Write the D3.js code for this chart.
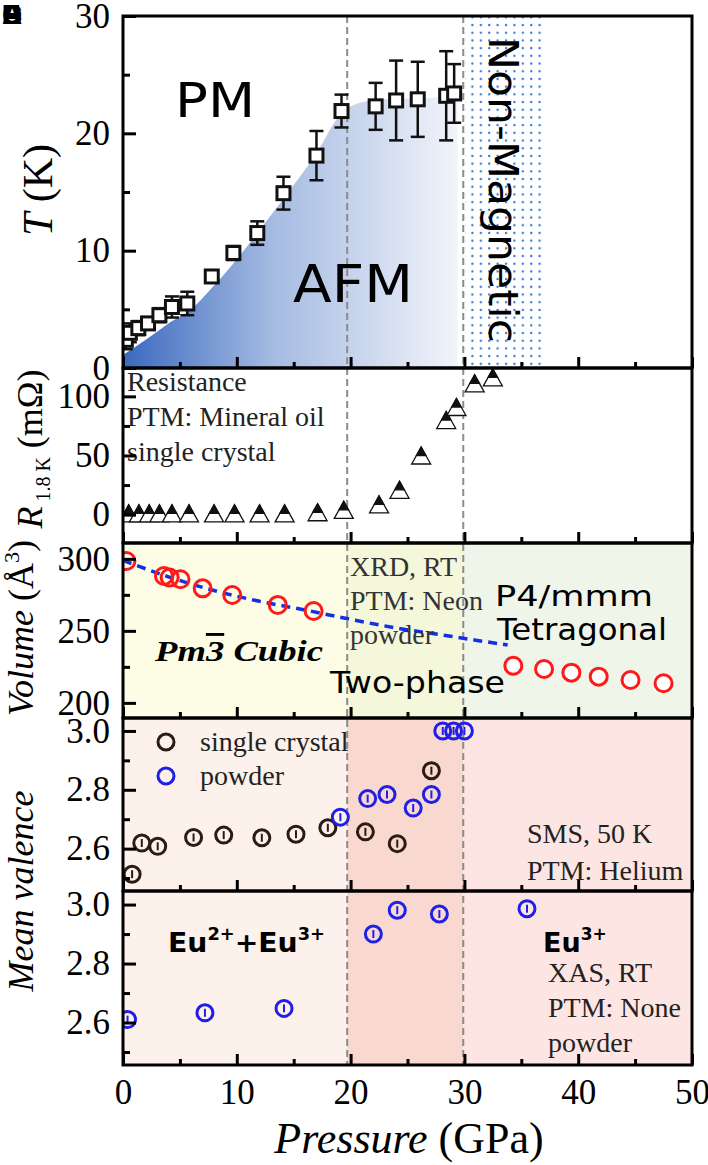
<!DOCTYPE html>
<html>
<head>
<meta charset="utf-8">
<script src="https://cdn.jsdelivr.net/npm/d3@7"></script>
<style>
  body { margin: 0; background: #fff; }
  svg { display: block; }
</style>
</head>
<body>
<div id="chart"></div>
<script>
// ---- data ----
// panel 1: Neel temperature vs pressure
const tnP   = [0.25, 0.6, 1.35, 2.2, 3.2, 4.3, 5.65, 7.8, 9.7, 11.8, 14.1, 17.0, 19.2, 22.2, 24.0, 25.9, 28.4, 29.1];
const tnT   = [2.4, 3.0, 3.4, 3.8, 4.5, 5.2, 5.5, 7.8, 9.8, 11.5, 14.9, 18.1, 21.9, 22.3, 22.8, 22.9, 23.2, 23.4];
const tnErr = [0.8, 0.8, 0.6, 0.5, 0.6, 0.9, 1.0, 0.5, 0.6, 1.0, 1.4, 2.1, 1.4, 2.0, 3.4, 3.2, 3.8, 2.5];
// AFM shaded region boundary
const afmP = [0, 2, 4, 6, 7.6, 9.7, 11.8, 14, 17, 19.1, 20.8, 23, 26, 29.4];
const afmT = [1.1, 2.4, 3.8, 5.0, 6.6, 8.9, 11.5, 14.3, 18.3, 21.6, 22.6, 22.9, 23.0, 23.1];
// panel 2: resistance at 1.8 K
const resP = [0.5, 1.4, 2.3, 3.2, 4.3, 5.8, 8.0, 9.8, 12.0, 14.2, 17.1, 19.4, 22.5, 24.3, 26.2, 28.4, 29.3, 30.9, 32.5];
const resR = [1, 1, 1, 1, 1, 1, 1, 1, 1, 1, 2, 4, 8.6, 21, 50, 80, 91, 111, 116];
// panel 3: unit-cell volume
const cubP = [0.3, 3.6, 4.1, 5.05, 7.0, 9.6, 13.6, 16.75];
const cubV = [298.5, 288.1, 287.0, 285.8, 279.5, 274.9, 268.0, 263.8];
const tetP = [34.3, 37.0, 39.4, 41.8, 44.6, 47.5];
const tetV = [225.8, 223.5, 221.0, 218.2, 215.9, 213.6];
const fitP = [0, 4, 8, 12, 16, 20, 24, 28, 31, 33.8];
const fitV = [299, 287.5, 278, 270.5, 264.5, 258, 252, 247.2, 243.5, 240.2];
// panel 4: SMS mean valence
const smsCrystalP = [0.8, 1.65, 3.05, 6.2, 8.85, 12.2, 15.2, 18.0, 21.3, 24.1, 27.1];
const smsCrystalV = [2.513, 2.619, 2.608, 2.638, 2.646, 2.637, 2.649, 2.671, 2.657, 2.617, 2.865];
const smsPowderP  = [19.1, 21.5, 23.2, 25.5, 27.1, 28.1, 29.05, 30.0];
const smsPowderV  = [2.707, 2.770, 2.784, 2.738, 2.784, 3.0, 3.0, 3.0];
// panel 5: XAS mean valence
const xasP = [0.4, 7.2, 14.15, 22.0, 24.1, 27.8, 35.5];
const xasV = [2.61, 2.633, 2.648, 2.90, 2.981, 2.968, 2.986];

const xTicks = [0, 10, 20, 30, 40, 50];
const xMinor = [5, 15, 25, 35, 45];
const phaseLines = [19.7, 29.9];
const nonMagEnd = 37.2;

// ---- layout ----
const W = 708, H = 1165;
const serif = "'Liberation Serif', 'Times New Roman', serif";
const hand = "'Comic Sans MS', 'DejaVu Sans', sans-serif";

const svg = d3.select("#chart").append("svg")
  .attr("width", W).attr("height", H);
const defs = svg.append("defs");

const x = d3.scaleLinear().domain([0, 50]).range([123, 692]);

const panels = [
  { top: 16,  bottom: 368,  domain: [0, 30],        major: [0, 10, 20, 30], minor: [5, 15, 25], fmt: d3.format("d") },
  { top: 368, bottom: 543,  domain: [-24, 124],     major: [0, 50, 100],    minor: [25, 75],     fmt: d3.format("d") },
  { top: 543, bottom: 718,  domain: [189.5, 311],   major: [200, 250, 300], minor: [225, 275],   fmt: d3.format("d") },
  { top: 718, bottom: 891,  domain: [2.456, 3.044], major: [2.6, 2.8, 3.0], minor: [2.5, 2.7, 2.9], fmt: d3.format(".1f") },
  { top: 891, bottom: 1065, domain: [2.456, 3.046], major: [2.6, 2.8, 3.0], minor: [2.5, 2.7, 2.9], fmt: d3.format(".1f") }
];
panels.forEach((p, i) => {
  p.y = d3.scaleLinear().domain(p.domain).range([p.bottom, p.top]);
  defs.append("clipPath").attr("id", "clip" + i)
    .append("rect")
    .attr("x", x(0)).attr("y", p.top)
    .attr("width", x(50) - x(0)).attr("height", p.bottom - p.top);
});
const [p1, p2, p3, p4, p5] = panels;

// ---- phase backgrounds ----
const bands = (p, colors) => {
  const edges = [0, phaseLines[0], phaseLines[1], 50];
  svg.append("g").selectAll("rect")
    .data(colors)
    .join("rect")
    .attr("x", (d, i) => x(edges[i]))
    .attr("y", p.top)
    .attr("width", (d, i) => x(edges[i + 1]) - x(edges[i]))
    .attr("height", p.bottom - p.top)
    .attr("fill", d => d);
};
bands(p3, ["#fdfde6", "#f4f7da", "#f0f5ea"]);
bands(p4, ["#fdf1eb", "#f9d8cf", "#fde5e3"]);
bands(p5, ["#fdf1eb", "#f9d8cf", "#fde5e3"]);

// AFM gradient area
const grad = defs.append("linearGradient").attr("id", "afmGrad")
  .attr("gradientUnits", "userSpaceOnUse")
  .attr("x1", x(0)).attr("x2", x(29.4)).attr("y1", 0).attr("y2", 0);
grad.append("stop").attr("offset", 0).attr("stop-color", "#3b69bf");
grad.append("stop").attr("offset", 0.45).attr("stop-color", "#a5bbe2");
grad.append("stop").attr("offset", 1).attr("stop-color", "#f2f4fa");

const afmData = afmP.map((p, i) => [p, afmT[i]]);
svg.append("path")
  .datum(afmData)
  .attr("clip-path", "url(#clip0)")
  .attr("fill", "url(#afmGrad)")
  .attr("d", d3.area().x(d => x(d[0])).y0(p1.y(0)).y1(d => p1.y(d[1])).curve(d3.curveMonotoneX));

// non-magnetic dotted region
const pat = defs.append("pattern").attr("id", "dots")
  .attr("patternUnits", "userSpaceOnUse")
  .attr("width", 8.4).attr("height", 7.7);
pat.append("circle").attr("cx", 2).attr("cy", 2).attr("r", 1.2).attr("fill", "#3576d6");
svg.append("rect")
  .attr("x", x(phaseLines[1]) + 2).attr("y", p1.top)
  .attr("width", x(nonMagEnd) - x(phaseLines[1]) - 2)
  .attr("height", p1.bottom - p1.top)
  .attr("fill", "url(#dots)");

// phase boundary dashed lines
svg.append("g").selectAll("line")
  .data(phaseLines)
  .join("line")
  .attr("x1", d => x(d)).attr("x2", d => x(d))
  .attr("y1", p1.top).attr("y2", p5.bottom)
  .attr("stroke", "#8c8c8c").attr("stroke-width", 2)
  .attr("stroke-dasharray", "7,4");

// ---- panel 1: T_N ----
const tn = tnP.map((p, i) => ({ p, t: tnT[i], e: tnErr[i] }));
const g1 = svg.append("g").attr("clip-path", "url(#clip0)");
const eb = g1.selectAll(".eb").data(tn).join("g")
  .attr("stroke", "#111").attr("stroke-width", 2.5);
eb.append("line")
  .attr("x1", d => x(d.p)).attr("x2", d => x(d.p))
  .attr("y1", d => p1.y(d.t - d.e)).attr("y2", d => p1.y(d.t + d.e));
eb.append("line")
  .attr("x1", d => x(d.p) - 7).attr("x2", d => x(d.p) + 7)
  .attr("y1", d => p1.y(d.t + d.e)).attr("y2", d => p1.y(d.t + d.e));
eb.append("line")
  .attr("x1", d => x(d.p) - 7).attr("x2", d => x(d.p) + 7)
  .attr("y1", d => p1.y(d.t - d.e)).attr("y2", d => p1.y(d.t - d.e));
g1.selectAll(".sq").data(tn).join("rect")
  .attr("x", d => x(d.p) - 6.5).attr("y", d => p1.y(d.t) - 6.5)
  .attr("width", 13).attr("height", 13)
  .attr("fill", "#fff").attr("stroke", "#111").attr("stroke-width", 3);

svg.append("text").text("PM")
  .attr("x", 175).attr("y", 117)
  .attr("font-family", hand).attr("font-size", 48)
  .attr("textLength", 80).attr("lengthAdjust", "spacingAndGlyphs");
svg.append("text").text("AFM")
  .attr("x", 293).attr("y", 302)
  .attr("font-family", hand).attr("font-size", 52)
  .attr("textLength", 120).attr("lengthAdjust", "spacingAndGlyphs");
svg.append("text").text("Non-Magnetic")
  .attr("transform", "translate(489,37) rotate(90)")
  .attr("font-family", hand).attr("font-size", 40)
  .attr("textLength", 306).attr("lengthAdjust", "spacingAndGlyphs");

// ---- panel 2: resistance ----
const tw = 19, th = 17;
const g2 = svg.append("g").attr("clip-path", "url(#clip1)");
const tri = g2.selectAll(".tri").data(resP.map((p, i) => ({ p, r: resR[i] }))).join("g")
  .attr("transform", d => `translate(${x(d.p)},${p2.y(d.r)})`);
tri.append("path")
  .attr("d", `M0,${-th / 2}L${tw / 2},${th / 2}L${-tw / 2},${th / 2}Z`)
  .attr("fill", "#fff").attr("stroke", "#111").attr("stroke-width", 1.3);
tri.append("path")
  .attr("d", `M0,${-th / 2}L${tw / 4},0L${-tw / 4},0Z`)
  .attr("fill", "#111").attr("stroke", "#111").attr("stroke-width", 1.3);

svg.append("g").selectAll("text")
  .data(["Resistance", "PTM: Mineral oil", "single crystal"])
  .join("text")
  .attr("x", 127).attr("y", (d, i) => 391 + i * 35)
  .attr("font-family", serif).attr("font-size", 28).attr("fill", "#222")
  .text(d => d);

// ---- panel 3: volume ----
const g3 = svg.append("g").attr("clip-path", "url(#clip2)");
g3.append("path")
  .datum(fitP.map((p, i) => [p, fitV[i]]))
  .attr("fill", "none").attr("stroke", "#1430e6").attr("stroke-width", 3.5)
  .attr("stroke-dasharray", "9,6")
  .attr("d", d3.line().x(d => x(d[0])).y(d => p3.y(d[1])).curve(d3.curveMonotoneX));
g3.selectAll(".cub").data(cubP.map((p, i) => [p, cubV[i]])).join("circle")
  .attr("cx", d => x(d[0])).attr("cy", d => p3.y(d[1])).attr("r", 8.5)
  .attr("fill", "none").attr("stroke", "#ff1a1a").attr("stroke-width", 3);
g3.selectAll(".tet").data(tetP.map((p, i) => [p, tetV[i]])).join("circle")
  .attr("cx", d => x(d[0])).attr("cy", d => p3.y(d[1])).attr("r", 8.5)
  .attr("fill", "#fff").attr("stroke", "#ff1a1a").attr("stroke-width", 3);

svg.append("g").selectAll("text")
  .data(["XRD, RT", "PTM: Neon", "powder"])
  .join("text")
  .attr("x", 350).attr("y", (d, i) => 576 + i * 34)
  .attr("font-family", serif).attr("font-size", 28).attr("fill", "#333")
  .text(d => d);

const cubic = svg.append("text")
  .attr("x", 155).attr("y", 661)
  .attr("font-family", serif).attr("font-size", 29)
  .attr("font-weight", "bold").attr("font-style", "italic")
  .attr("textLength", 168).attr("lengthAdjust", "spacingAndGlyphs");
cubic.append("tspan").text("Pm");
cubic.append("tspan").text("3").style("text-decoration", "overline");
cubic.append("tspan").text(" Cubic");

svg.append("text").text("Two-phase")
  .attr("x", 330).attr("y", 693)
  .attr("font-family", hand).attr("font-size", 31)
  .attr("textLength", 175).attr("lengthAdjust", "spacingAndGlyphs");
svg.append("text").text("P4/mmm")
  .attr("x", 495).attr("y", 606)
  .attr("font-family", hand).attr("font-size", 29)
  .attr("textLength", 158).attr("lengthAdjust", "spacingAndGlyphs");
svg.append("text").text("Tetragonal")
  .attr("x", 497).attr("y", 640)
  .attr("font-family", hand).attr("font-size", 31)
  .attr("textLength", 170).attr("lengthAdjust", "spacingAndGlyphs");

// ---- valence markers ----
const valMarks = (g, data, y, color) => {
  const m = g.selectAll(null).data(data).join("g")
    .attr("transform", d => `translate(${x(d[0])},${y(d[1])})`);
  m.append("circle").attr("r", 8)
    .attr("fill", "none").attr("stroke", color).attr("stroke-width", 3);
  m.append("line").attr("y1", -4).attr("y2", 4)
    .attr("stroke", color).attr("stroke-width", 2);
};

// ---- panel 4: SMS ----
const g4 = svg.append("g").attr("clip-path", "url(#clip3)");
valMarks(g4, smsCrystalP.map((p, i) => [p, smsCrystalV[i]]), p4.y, "#2a1c12");
valMarks(g4, smsPowderP.map((p, i) => [p, smsPowderV[i]]), p4.y, "#1f1fe8");

const legend = svg.append("g");
legend.selectAll("circle")
  .data([["single crystal", "#2a1c12"], ["powder", "#1f1fe8"]])
  .join("circle")
  .attr("cx", 166).attr("cy", (d, i) => 742 + i * 34).attr("r", 8)
  .attr("fill", "none").attr("stroke", d => d[1]).attr("stroke-width", 3);
legend.selectAll("text")
  .data(["single crystal", "powder"])
  .join("text")
  .attr("x", 200).attr("y", (d, i) => 751 + i * 34)
  .attr("font-family", serif).attr("font-size", 28).attr("fill", "#222")
  .text(d => d);

svg.append("g").selectAll("text")
  .data(["SMS, 50 K", "PTM: Helium"])
  .join("text")
  .attr("x", 527).attr("y", (d, i) => 843 + i * 37)
  .attr("font-family", serif).attr("font-size", 28).attr("fill", "#222")
  .text(d => d);

// ---- panel 5: XAS ----
const g5 = svg.append("g").attr("clip-path", "url(#clip4)");
valMarks(g5, xasP.map((p, i) => [p, xasV[i]]), p5.y, "#1f1fe8");

const eu = svg.append("text")
  .attr("x", 168).attr("y", 952)
  .attr("font-family", hand).attr("font-size", 27).attr("font-weight", "bold")
  .attr("textLength", 157).attr("lengthAdjust", "spacingAndGlyphs");
eu.append("tspan").text("Eu");
eu.append("tspan").text("2+").attr("font-size", 17).attr("dy", -12);
eu.append("tspan").text("+Eu").attr("dy", 12);
eu.append("tspan").text("3+").attr("font-size", 17).attr("dy", -12);
const eu3 = svg.append("text")
  .attr("x", 543).attr("y", 952)
  .attr("font-family", hand).attr("font-size", 27).attr("font-weight", "bold");
eu3.append("tspan").text("Eu");
eu3.append("tspan").text("3+").attr("font-size", 17).attr("dy", -12);

svg.append("g").selectAll("text")
  .data(["XAS, RT", "PTM: None", "powder"])
  .join("text")
  .attr("x", 548).attr("y", (d, i) => 982 + i * 35)
  .attr("font-family", serif).attr("font-size", 28).attr("fill", "#222")
  .text(d => d);

// ---- axes and frames ----
panels.forEach((p, i) => {
  const last = i === panels.length - 1;
  svg.append("g").attr("transform", `translate(${x(0)},0)`)
    .call(d3.axisLeft(p.y).tickValues(p.major).tickSizeInner(-13).tickSizeOuter(0)
      .tickPadding(13).tickFormat(p.fmt));
  svg.append("g").attr("transform", `translate(${x(0)},0)`)
    .call(d3.axisLeft(p.y).tickValues(p.minor).tickSizeInner(-7).tickSizeOuter(0).tickFormat(""));
  svg.append("g").attr("transform", `translate(0,${p.bottom})`)
    .call(d3.axisBottom(x).tickValues(xTicks).tickSizeInner(-11).tickSizeOuter(0)
      .tickPadding(14).tickFormat(last ? d3.format("d") : ""));
  svg.append("g").attr("transform", `translate(0,${p.bottom})`)
    .call(d3.axisBottom(x).tickValues(xMinor).tickSizeInner(-6).tickSizeOuter(0).tickFormat(""));
  svg.append("rect")
    .attr("x", x(0)).attr("y", p.top)
    .attr("width", x(50) - x(0)).attr("height", p.bottom - p.top)
    .attr("fill", "none").attr("stroke", "#000").attr("stroke-width", 3);
});
svg.selectAll(".domain").remove();
svg.selectAll(".tick line").attr("stroke", "#000").attr("stroke-width", 3);
svg.selectAll(".tick text")
  .attr("font-family", serif).attr("font-size", 35).attr("fill", "#000");

// ---- axis titles ----
const tLab = svg.append("text")
  .attr("transform", "translate(52,190) rotate(-90)")
  .attr("text-anchor", "middle")
  .attr("font-family", serif).attr("font-size", 42);
tLab.append("tspan").text("T").attr("font-style", "italic");
tLab.append("tspan").text(" (K)");

const rLab = svg.append("text")
  .attr("transform", "translate(42,449) rotate(-90)")
  .attr("text-anchor", "middle")
  .attr("font-family", serif).attr("font-size", 36);
rLab.append("tspan").text("R").attr("font-style", "italic");
rLab.append("tspan").text(" 1.8 K").attr("font-size", 20).attr("dy", 8);
rLab.append("tspan").text(" (mΩ)").attr("dy", -8);

const vLab = svg.append("text")
  .attr("transform", "translate(33,628) rotate(-90)")
  .attr("text-anchor", "middle")
  .attr("font-family", serif).attr("font-size", 36);
vLab.append("tspan").text("Volume").attr("font-style", "italic");
vLab.append("tspan").text(" (Å");
vLab.append("tspan").text("3").attr("font-size", 22).attr("dy", -14);
vLab.append("tspan").text(")").attr("dy", 14);

svg.append("text")
  .attr("transform", "translate(33,891) rotate(-90)")
  .attr("text-anchor", "middle")
  .attr("font-family", serif).attr("font-size", 36).attr("font-style", "italic")
  .text("Mean valence");

const xLab = svg.append("text")
  .attr("x", 409).attr("y", 1153)
  .attr("text-anchor", "middle")
  .attr("font-family", serif).attr("font-size", 44);
xLab.append("tspan").text("Pressure").attr("font-style", "italic");
xLab.append("tspan").text(" (GPa)");

// stacked panel letters in the corner
svg.append("g").selectAll("text")
  .data(["A", "B", "C", "D", "E"])
  .join("text")
  .attr("x", 2).attr("y", 24)
  .attr("font-family", "'Liberation Sans', Arial, sans-serif")
  .attr("font-weight", "bold").attr("font-size", 28)
  .text(d => d);
</script>
</body>
</html>
